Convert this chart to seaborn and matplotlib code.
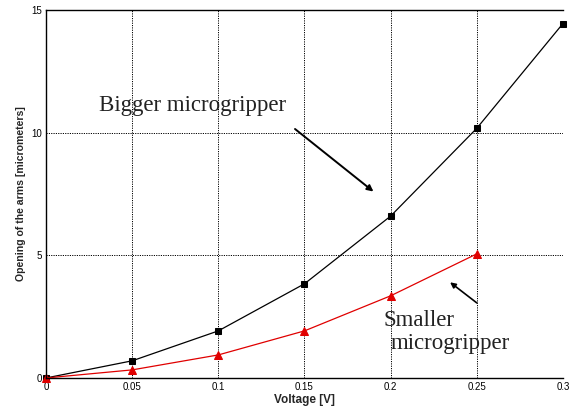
import matplotlib
matplotlib.use("Agg")
import matplotlib.pyplot as plt
import seaborn as sns
import pandas as pd

voltage = [0.0, 0.05, 0.10, 0.15, 0.20, 0.25, 0.30]
bigger_opening = [0.0, 0.70, 1.92, 3.84, 6.60, 10.18, 14.45]
voltage_small = [0.0, 0.05, 0.10, 0.15, 0.20, 0.25]
smaller_opening = [0.0, 0.33, 0.94, 1.92, 3.35, 5.06]
x_ticks = [0, 0.05, 0.1, 0.15, 0.2, 0.25, 0.3]
x_tick_labels = ["0", "0.05", "0.1", "0.15", "0.2", "0.25", "0.3"]
y_ticks = [0, 5, 10, 15]

sns.set_theme(style="white")
plt.rcParams["font.family"] = ["Liberation Sans", "DejaVu Sans"]

big = pd.DataFrame({"Voltage": voltage, "Opening": bigger_opening})
small = pd.DataFrame({"Voltage": voltage_small, "Opening": smaller_opening})

fig = plt.figure(figsize=(5.73, 4.07), dpi=100)
ax = fig.add_axes([0.0803, 0.0713, 0.9022, 0.9041])

sns.lineplot(data=big, x="Voltage", y="Opening", ax=ax, color="black",
             marker="s", markersize=5, linewidth=0.9, clip_on=False,
             markeredgecolor="black", markerfacecolor="black")
sns.lineplot(data=small, x="Voltage", y="Opening", ax=ax, color="#e00000",
             marker="^", markersize=6, linewidth=0.9, clip_on=False,
             markeredgecolor="#e00000", markerfacecolor="#e00000")

ax.set_xlim(0, 0.3)
ax.set_ylim(0, 15)
ax.set_xticks(x_ticks)
ax.set_xticklabels(x_tick_labels)
ax.set_yticks(y_ticks)
ax.tick_params(labelsize=7, length=0, pad=3, colors="black")
ax.grid(True, color="black", linestyle=(0, (1.2, 1.2)), linewidth=0.7)
ax.set_axisbelow(True)

for side in ["left", "bottom", "top"]:
    ax.spines[side].set_visible(True)
    ax.spines[side].set_color("black")
    ax.spines[side].set_linewidth(1.0)
ax.spines["right"].set_visible(False)

ax.set_xlabel("Voltage [V]", fontsize=8.5, fontweight="bold", labelpad=1)
ax.set_ylabel("Opening of the arms [micrometers]", fontsize=7.6, fontweight="bold", labelpad=4)

serif = ["Liberation Serif", "DejaVu Serif"]
ax.text(0.0305, 11.1, "Bigger microgripper", fontsize=16.5, family=serif,
        va="center", ha="left", color="#222222")
ax.annotate("", xy=(0.190, 7.6), xytext=(0.1445, 10.15),
            arrowprops=dict(arrowstyle="-|>", color="black", lw=1.4,
                            mutation_scale=9, shrinkA=0, shrinkB=0))

ax.text(0.196, 2.35, "Smaller", fontsize=16.5, family=serif,
        va="center", ha="left", color="#222222")
ax.text(0.200, 1.42, "microgripper", fontsize=16.5, family=serif,
        va="center", ha="left", color="#222222")
ax.annotate("", xy=(0.2345, 3.9), xytext=(0.250, 3.06),
            arrowprops=dict(arrowstyle="-|>", color="black", lw=1.2,
                            mutation_scale=8, shrinkA=0, shrinkB=0))

fig.savefig("out.png", dpi=100)
